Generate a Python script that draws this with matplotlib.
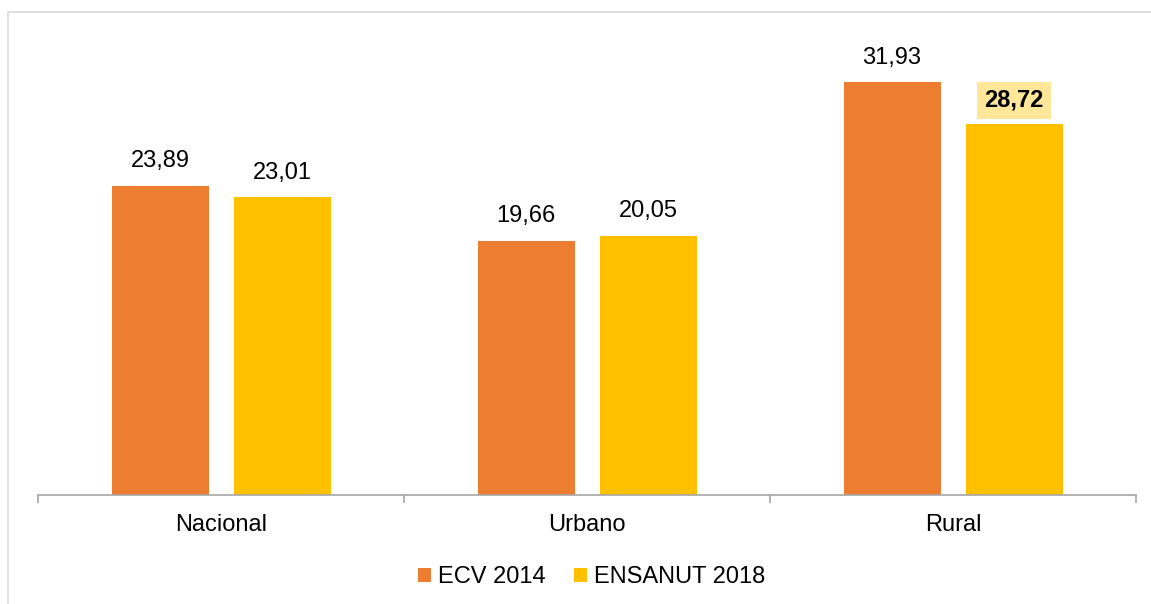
import numpy as np
import matplotlib.pyplot as plt
from matplotlib.patches import Rectangle

plt.rcParams['font.family'] = ['Liberation Sans', 'DejaVu Sans']

categories = ['Nacional', 'Urbano', 'Rural']
ecv_2014 = [23.89, 19.66, 31.93]
ensanut_2018 = [23.01, 20.05, 28.72]
series_names = ['ECV 2014', 'ENSANUT 2018']

W, H = 1151, 604
fig = plt.figure(figsize=(W / 100, H / 100), dpi=100)

# outer light border (left and top edges visible only)
fig.patches.append(Rectangle((8 / W, -0.1), 1.2, 1.1 - 12 / H, transform=fig.transFigure,
                             fill=False, edgecolor='#d9d9d9', linewidth=1.2))

ax = fig.add_axes([38 / W, 1 - 495 / H, (1136 - 38) / W, (495 - 12) / H])
x = np.arange(len(categories))
bw = 0.265
off = 0.1667
b1 = ax.bar(x - off + 0.0015, ecv_2014, bw, color='#ED7D31', label=series_names[0])
b2 = ax.bar(x + off + 0.0015, ensanut_2018, bw, color='#FFC000', label=series_names[1])

ax.set_xlim(-0.5, 2.5)
ax.set_ylim(0, 37.35)
ax.set_yticks([])
for s in ['top', 'right', 'left']:
    ax.spines[s].set_visible(False)
ax.spines['bottom'].set_color('#a6a6a6')
ax.spines['bottom'].set_linewidth(1.2)

ax.set_xticks([-0.5, 0.5, 1.5, 2.5])
ax.set_xticklabels([])
ax.tick_params(axis='x', length=6, color='#a6a6a6', width=1.2, direction='out')
for i, c in enumerate(categories):
    ax.text(i, -2.3, c, ha='center', va='center', fontsize=17)

def fmt(v):
    return f'{v:.2f}'.replace('.', ',')

for i in range(len(categories)):
    ax.text(x[i] - off, ecv_2014[i] + 1.9, fmt(ecv_2014[i]), ha='center', va='center', fontsize=17)
    if i == 2:
        ax.text(x[i] + off, ensanut_2018[i] + 1.8, fmt(ensanut_2018[i]), ha='center', va='center',
                fontsize=17, fontweight='bold',
                bbox=dict(boxstyle='square,pad=0.3', facecolor='#FFE699', edgecolor='none'))
    else:
        ax.text(x[i] + off, ensanut_2018[i] + 1.9, fmt(ensanut_2018[i]), ha='center', va='center', fontsize=17)

fig.legend(handles=[b1, b2], loc='center', bbox_to_anchor=(592 / W, 1 - 577 / H), ncol=2,
           frameon=False, fontsize=17, handlelength=0.55, handleheight=0.55,
           handletextpad=0.3, columnspacing=1.2)

fig.savefig('out.png', dpi=100)
